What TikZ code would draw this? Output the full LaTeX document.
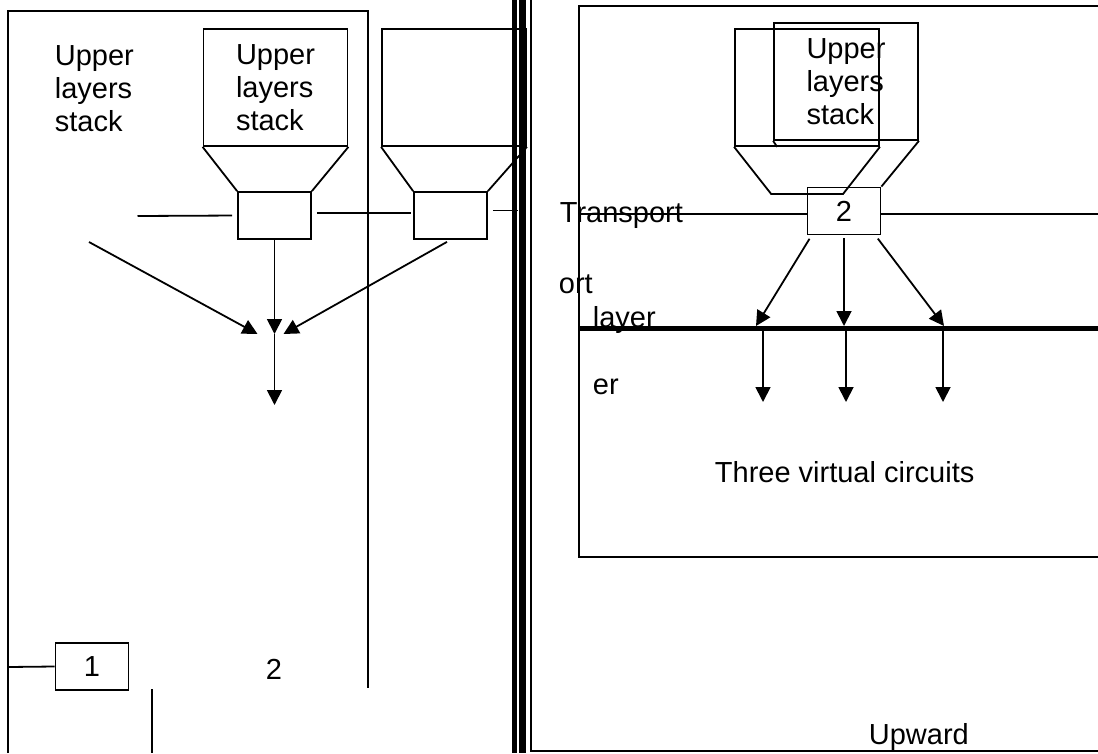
\documentclass[tikz,border=0pt]{standalone}
\usepackage{fontspec}
\setmainfont{Liberation Sans}
\usetikzlibrary{arrows.meta}

\begin{document}
\begin{tikzpicture}[
  x=1pt, y=-1pt, line width=1.8pt, >={Triangle[length=15pt,width=15pt]},
  font=\fontsize{29}{33}\selectfont,
  sap/.style={draw, minimum width=73pt, minimum height=47pt, inner sep=0pt},
  stk/.style={draw, minimum width=144pt, minimum height=117pt, inner sep=0pt, align=left},
  txt/.style={inner sep=0pt, anchor=base west}]
\useasboundingbox (0,0) rectangle (1098,753);
% left half
\draw (8,753) -- (8,11) -- (368,11) -- (368,688);
\node[inner sep=0pt, align=left, anchor=west] (ulsL) at (54,88.5) {Upper\\layers\\stack};
\node[stk] (stkA) at (275.5,87.5) {Upper\\layers\\stack};
\node[sap] (sapA) at (274.5,215.5) {};
\draw (stkA.south west) -- (sapA.north west) (stkA.south east) -- (sapA.north east);
\node[stk] (stkB) at (454,87.5) {};
\node[sap] (sapB) at (450.5,215.5) {};
\draw (stkB.south west) -- (sapB.north west) (stkB.south east) -- (sapB.north east);
\coordinate (wA) at (137.5,216);
\coordinate (mAB) at (0,213);
\coordinate (eB) at (518,210.5);
\draw[shorten <=5pt] (sapA.west) -- (wA);
\draw[shorten <=5pt, shorten >=2pt] (sapA.east |- mAB) -- (sapB.west |- mAB);
\draw[shorten <=5pt] (sapB.east |- eB) -- (eB);
\coordinate (mrg) at (274.5,334);
\coordinate (dn) at (274.5,405);
\coordinate (fromL) at (89,242);
\draw[->] (sapA.south) -- (mrg);
\draw[->] (fromL) -- ([xshift=-17pt]mrg);
\draw[->, shorten <=4pt] (sapB.south) -- ([xshift=9pt]mrg);
\draw[->] (mrg) -- (dn);
\node[sap] (one) at (92,666.5) {1};
\coordinate (lft) at (8,667);
\draw (lft) -- (one.west);
\node[inner sep=0pt] (two) at (274,669) {2};
\draw (152,689) -- (152,753);
% divider
\draw[line width=4.5pt] (514.5,0) -- (514.5,753);
\draw[line width=7.5pt] (522.5,0) -- (522.5,753);
% right half
\draw (530.8,0) -- (530.8,751) -- (1098,751);
\draw (1100,6) -- (579,6) -- (579,557) -- (1100,557);
\node[stk] (stkC) at (807,87.5) {};
\draw (stkC.south west) -- ++(37,47) -- ++(72,0) -- (stkC.south east);
\node[stk] (stkD) at (846,81.5) {Upper\\layers\\stack};
\node[sap] (sapT) at (844,211) {2};
\draw (stkD.south west) -- ++(4,6) (stkD.south east) -- (sapT.north east);
\coordinate (tl) at (579,214);
\coordinate (tr) at (1100,214);
\draw (tl) -- (sapT.west |- tl) (sapT.east |- tr) -- (tr);
\node[txt] (trn) at (559,222) {Transport};
\node[txt] (ort) at (558,293) {ort};
\node[txt] (lay) at (592,327) {layer};
\node[txt] (er) at (592,394) {er};
\coordinate (bL) at (579,328);
\coordinate (bR) at (1100,328);
\draw[line width=5pt] (bL) -- (bR);
\draw[->, shorten <=4pt] ([xshift=5pt]sapT.south west) -- (756,326);
\draw[->, shorten <=3pt] (sapT.south) -- (844,326);
\draw[->, shorten <=4pt] ([xshift=-6pt]sapT.south east) -- (944,326);
\foreach \x [count=\i] in {763,846,943} {
  \coordinate (vc\i) at (\x,331); \coordinate (ve\i) at (\x,402);
  \draw[->] (vc\i) -- (ve\i);}
\node[txt] (tvc) at (714,482) {Three virtual circuits};
\node[txt] (upw) at (868,744) {Upward};
\end{tikzpicture}
\end{document}
